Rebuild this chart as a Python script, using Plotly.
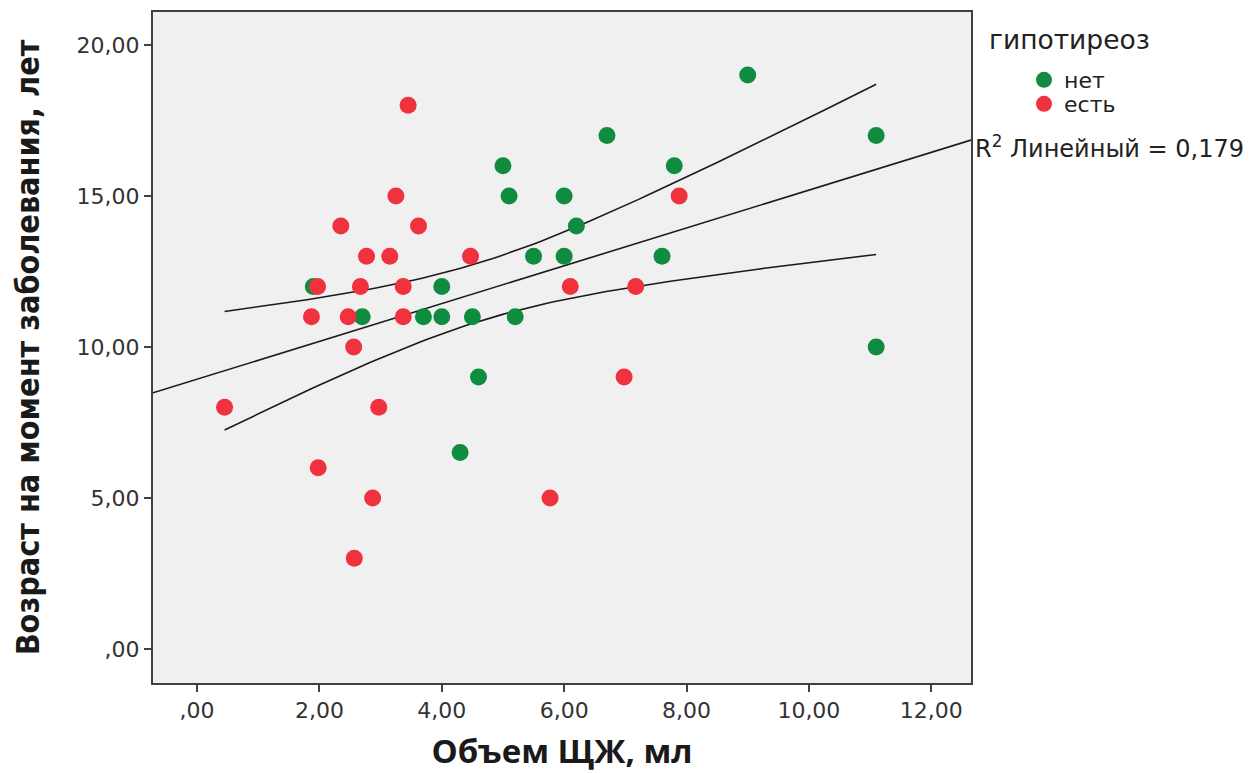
import numpy as np
import plotly.graph_objects as go

# Data
net_x = [1.9, 2.7, 3.7, 4.0, 4.5, 5.2, 4.0, 5.0, 5.1, 6.0, 6.2, 5.5, 6.0, 6.7, 7.8, 7.6, 9.0, 11.1, 11.1, 4.6, 4.3]
net_y = [12, 11, 11, 11, 11, 11, 12, 16, 15, 15, 14, 13, 13, 17, 16, 13, 19, 17, 10, 9, 6.5]
est_x = [0.45, 3.45, 3.25, 2.35, 3.62, 2.77, 3.15, 4.47, 1.97, 2.67, 3.37, 1.87, 2.47, 3.37, 2.56, 2.97, 1.98, 2.87, 2.57, 5.77, 6.98, 6.1, 7.17, 7.88]
est_y = [8, 18, 15, 14, 14, 13, 13, 13, 12, 12, 12, 11, 11, 11, 10, 8, 6, 5, 3, 5, 9, 12, 12, 15]

# Linear fit as reported on the chart
fit_intercept = 8.93
fit_slope = 0.626
r2_label = "R<sup>2</sup> Линейный = 0,179"

x_ticks = [0, 2, 4, 6, 8, 10, 12]
x_labels = [",00", "2,00", "4,00", "6,00", "8,00", "10,00", "12,00"]
y_ticks = [0, 5, 10, 15, 20]
y_labels = [",00", "5,00", "10,00", "15,00", "20,00"]

x_range = [-0.72, 12.65]
y_range = [-1.13, 21.09]

GREEN = "#108c41"
RED = "#ef323d"
LINE = "#1a1a1a"

# 95% CI of the mean around the fit line
X = np.array(net_x + est_x, dtype=float)
Y = np.array(net_y + est_y, dtype=float)
n = len(X)
resid = Y - (fit_intercept + fit_slope * X)
s = np.sqrt(np.sum(resid ** 2) / (n - 2))
xm = X.mean()
sxx = np.sum((X - xm) ** 2)
t_crit = 2.017
xl = np.array(x_range)
xc = np.linspace(X.min(), X.max(), 100)
yc = fit_intercept + fit_slope * xc
se = s * np.sqrt(1.0 / n + (xc - xm) ** 2 / sxx)

fig = go.Figure()
fig.add_trace(go.Scatter(x=xl, y=fit_intercept + fit_slope * xl, mode="lines",
                         line=dict(color=LINE, width=1.6), showlegend=False, hoverinfo="skip"))
fig.add_trace(go.Scatter(x=xc, y=yc + t_crit * se, mode="lines",
                         line=dict(color=LINE, width=1.6), showlegend=False, hoverinfo="skip"))
fig.add_trace(go.Scatter(x=xc, y=yc - t_crit * se, mode="lines",
                         line=dict(color=LINE, width=1.6), showlegend=False, hoverinfo="skip"))
fig.add_trace(go.Scatter(x=net_x, y=net_y, mode="markers", name="нет", legend="legend",
                         marker=dict(color=GREEN, size=17, line=dict(width=0))))
fig.add_trace(go.Scatter(x=est_x, y=est_y, mode="markers", name="есть", legend="legend2",
                         marker=dict(color=RED, size=17, line=dict(width=0))))

axis_common = dict(showline=True, mirror=True, linecolor="#404040", linewidth=2,
                   showgrid=False, zeroline=False, ticks="outside", ticklen=7,
                   tickcolor="#404040", tickwidth=1.5, automargin=False,
                   tickfont=dict(family="DejaVu Sans", size=22, color="#333333"))

legend_common = dict(xref="container", yref="container", xanchor="left", yanchor="middle",
                     bgcolor="rgba(0,0,0,0)", itemsizing="trace",
                     font=dict(family="DejaVu Sans", size=22, color="#222222"))

fig.update_layout(
    width=1250, height=773,
    margin=dict(l=153, r=279, t=12, b=90, autoexpand=False),
    paper_bgcolor="white", plot_bgcolor="#f0f0f0",
    xaxis=dict(range=x_range, tickvals=x_ticks, ticktext=x_labels,
               title=dict(text="Объем ЩЖ, мл", standoff=26,
                          font=dict(family="Open Sans", size=33, color="#1a1a1a", weight="bold")),
               **axis_common),
    yaxis=dict(range=y_range, tickvals=y_ticks, ticktext=y_labels,
               title=dict(text="Возраст на момент заболевания, лет", standoff=27,
                          font=dict(family="DejaVu Sans Condensed", size=32, color="#1a1a1a", weight="bold")),
               **axis_common),
    legend=dict(x=1024 / 1250, y=1 - 80 / 773, **legend_common),
    legend2=dict(x=1024 / 1250, y=1 - 104 / 773, **legend_common),
    annotations=[
        dict(xref="paper", yref="paper", x=(987 - 153) / 818, y=1 - (40 - 12) / 671,
             xanchor="left", yanchor="middle", showarrow=False, text="гипотиреоз",
             font=dict(family="DejaVu Sans", size=26.5, color="#222222")),
        dict(xref="paper", yref="y", x=1.003, y=16.62, xanchor="left", yanchor="middle",
             showarrow=False, text=r2_label,
             font=dict(family="DejaVu Sans", size=24, color="#222222")),
    ],
    showlegend=True,
)

fig.write_html("out.html")
